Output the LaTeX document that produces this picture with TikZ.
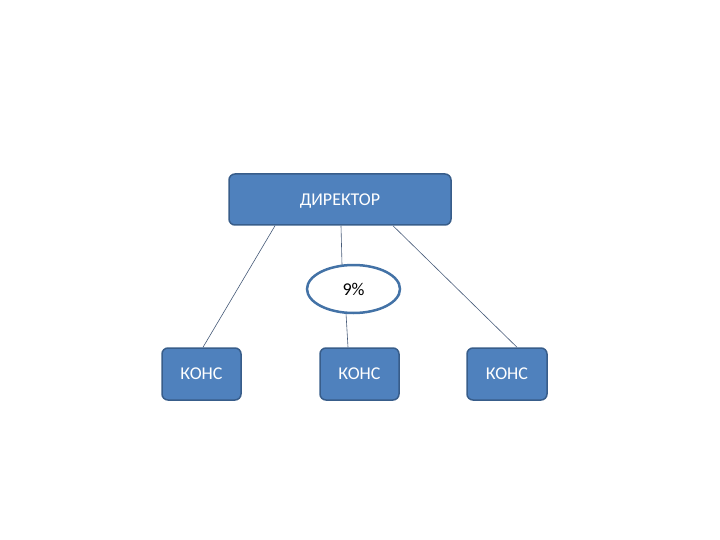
\documentclass[tikz,border=0pt]{standalone}
\usepackage{fontspec}
\setmainfont{Carlito}
\usetikzlibrary{shapes.geometric, positioning, backgrounds}
\definecolor{boxfill}{HTML}{4F81BD}
\definecolor{boxedge}{HTML}{385D8A}
\definecolor{ringedge}{HTML}{4372A6}
\definecolor{linkgray}{RGB}{70,90,120}
\tikzstyle{post} = [rectangle, draw=boxedge, fill=boxfill, line width=1.5pt, rounded corners=6pt, text=white, font=\fontsize{18}{20}\selectfont, inner sep=0pt, text depth=-2pt]
\tikzstyle{share} = [ellipse, draw=ringedge, fill=white, line width=2.5pt, text=black, font=\fontsize{18}{20}\selectfont, minimum width=93pt, minimum height=48pt, inner sep=0pt]
\tikzstyle{link} = [linkgray, line width=0.6pt]

\begin{document}
\begin{tikzpicture}[x=1pt, y=-1pt]
    \useasboundingbox (0,0) rectangle (720,540);

    % Director
    \node (dir) [post, minimum width=222pt, minimum height=51pt] at (340,199.5) {ДИРЕКТОР};

    % Share
    \node (pct) [share] at (353.5,289) {9\%};

    % Consultants
    \node (kons1) [post, minimum width=79pt, minimum height=52pt] at (201.5,374) {КОНС};
    \node (kons2) [post, minimum width=79pt, minimum height=52pt] at (359.5,374) {КОНС};
    \node (kons3) [post, minimum width=80pt, minimum height=52pt] at (507,374) {КОНС};

    % Links
    \begin{scope}[on background layer]
    \draw [link] ([xshift=-65pt]dir.south) -- ([xshift=1.5pt]kons1.north);
    \draw [link] ([xshift=1pt]dir.south) -- ([xshift=-11.5pt, yshift=-1pt]pct.north);
    \draw [link] ([xshift=-7.5pt, yshift=1pt]pct.south) -- ([xshift=-11.5pt]kons2.north);
    \draw [link] ([xshift=53pt]dir.south) -- ([xshift=10pt]kons3.north);
    \end{scope}
\end{tikzpicture}
\end{document}
